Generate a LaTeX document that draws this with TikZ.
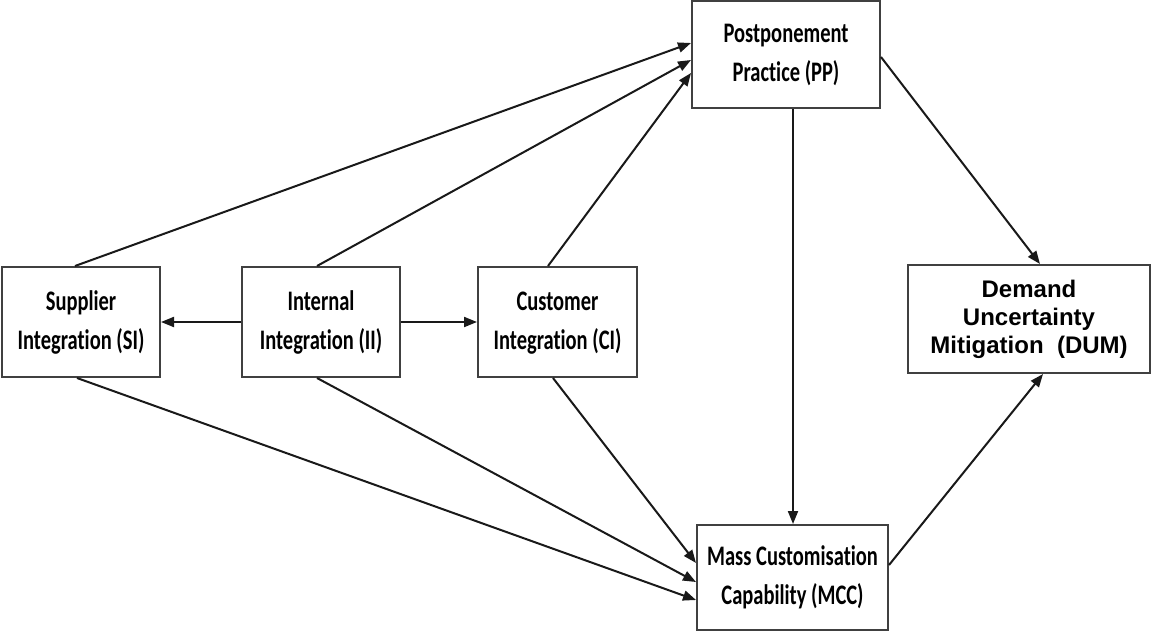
\documentclass[tikz,border=0pt]{standalone}
\usepackage{fontspec}
\setmainfont[RawFeature={-liga;-dlig}]{Carlito}
\newfontfamily\arialfont{Liberation Sans}
\usetikzlibrary{arrows.meta}
\newcommand{\tallbox}[1]{\scalebox{1}[1.38]{\begin{tabular}{@{}c@{}}#1\end{tabular}}}
\tikzset{
  factor/.style={draw=black!75, line width=2pt, fill=white, rectangle, align=center,
    inner sep=0pt, font=\fontsize{20.5}{28}\selectfont\bfseries},
  link/.style={draw=black!90, line width=2pt, -{Triangle[length=13pt,width=10pt]}},
}
\begin{document}
\begin{tikzpicture}[x=1pt,y=-1pt]
\useasboundingbox (0,0) rectangle (1159,634);

\node[factor, minimum width=188pt, minimum height=107pt] (PP) at (786,54.5)
  {\tallbox{Postponement\\Practice (PP)}};
\node[factor, minimum width=191pt, minimum height=105pt] (MCC) at (792.5,577.5)
  {\tallbox{Mass Customisation\\Capability (MCC)}};
\node[factor, minimum width=242pt, minimum height=108pt,
      font=\arialfont\fontsize{24}{28}\selectfont\bfseries] (DUM) at (1029,319)
  {Demand\\Uncertainty\\Mitigation\ \ (DUM)};
\node[factor, minimum width=158pt, minimum height=110pt] (SI) at (81,322)
  {\tallbox{Supplier\\Integration (SI)}};
\node[factor, minimum width=158pt, minimum height=110pt] (II) at (321,322)
  {\tallbox{Internal\\Integration (II)}};
\node[factor, minimum width=159pt, minimum height=110pt] (CI) at (557.5,322)
  {\tallbox{Customer\\Integration (CI)}};

% internal integration feeds both neighbours
\draw[link] (II.west) -- (SI.east);
\draw[link] (II.east) -- (CI.west);

% integration to postponement practice
\draw[link] ([xshift=-6pt]SI.north) -- ([yshift=11.5pt]PP.west);
\draw[link] ([xshift=-4pt]II.north) -- ([yshift=-5.5pt]PP.west);
\draw[link] ([xshift=-9.5pt]CI.north) -- ([yshift=-18.5pt]PP.west);

% integration to mass customisation capability
\draw[link] ([xshift=-4pt]SI.south) -- ([yshift=-22.5pt]MCC.west);
\draw[link] ([xshift=-4pt]II.south) -- ([yshift=-4.5pt]MCC.west);
\draw[link] ([xshift=-4.5pt]CI.south) -- ([yshift=14.5pt]MCC.west);

% postponement to capability, both to mitigation
\draw[link] ([xshift=7pt]PP.south) -- ([xshift=0.5pt]MCC.north);
\draw[link] ([yshift=-2.5pt]PP.east) -- ([xshift=11pt]DUM.north);
\draw[link] ([yshift=12.5pt]MCC.east) -- ([xshift=14pt]DUM.south);
\end{tikzpicture}
\end{document}
